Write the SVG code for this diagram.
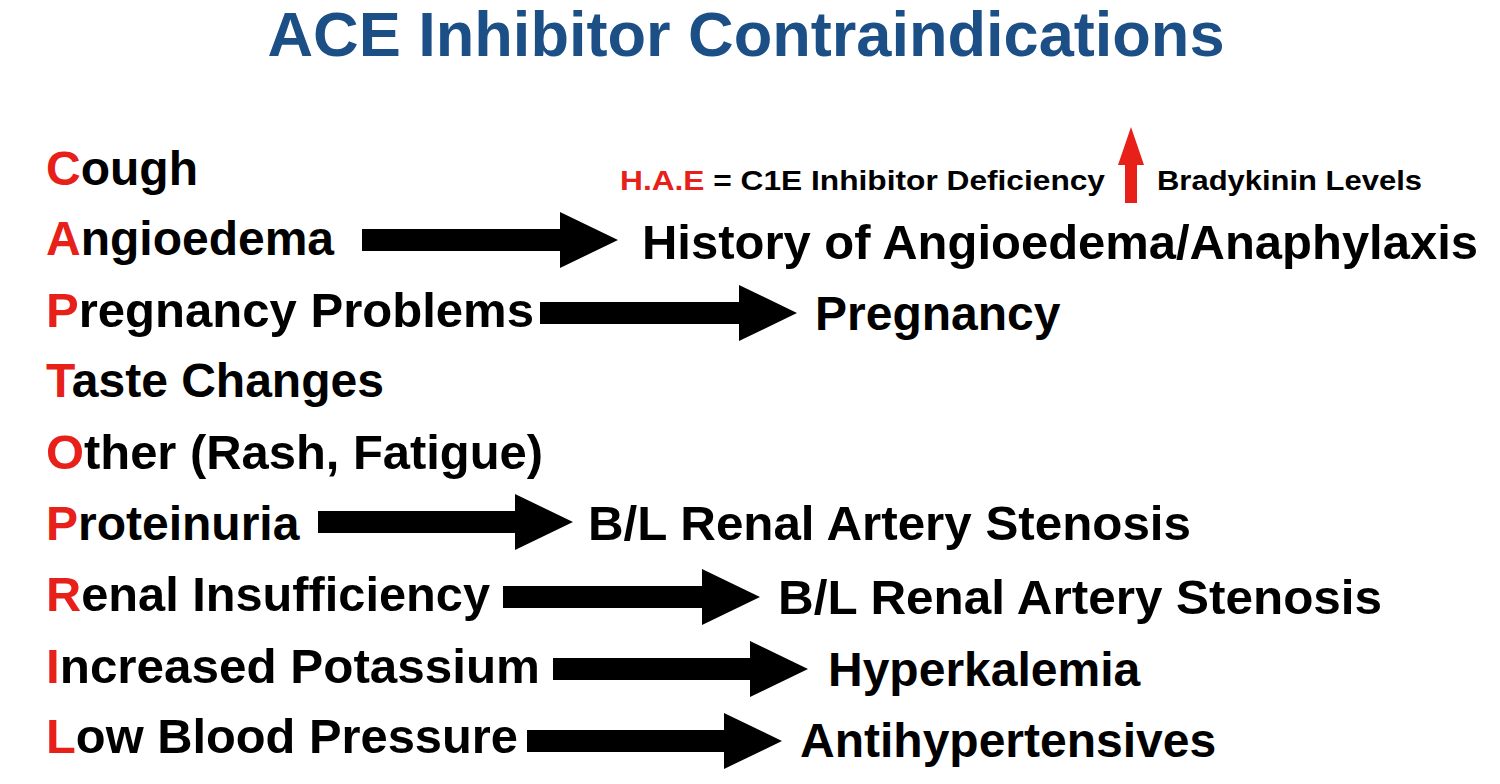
<svg xmlns="http://www.w3.org/2000/svg" width="1500" height="784" viewBox="0 0 1500 784">
<defs>
<style>
text{font-family:"Liberation Sans",Arial,sans-serif;font-weight:bold;fill:#000}
.t{font-size:48px}
.r{fill:#e8201a}
.s{font-size:28px}
.ttl{font-size:63px;fill:#1b4f86}
.arr{fill:#000}
</style>
</defs>
<rect width="1500" height="784" fill="#fff"/>
<text class="ttl" x="746" y="56" text-anchor="middle" textLength="957" lengthAdjust="spacingAndGlyphs">ACE Inhibitor Contraindications</text>
<g id="left">
<text class="t" x="46" y="185"><tspan class="r">C</tspan>ough</text>
<text class="t" x="46" y="255"><tspan class="r">A</tspan>ngioedema</text>
<text class="t" x="46" y="327" textLength="488" lengthAdjust="spacingAndGlyphs"><tspan class="r">P</tspan>regnancy Problems</text>
<text class="t" x="46" y="397"><tspan class="r">T</tspan>aste Changes</text>
<text class="t" x="46" y="469" textLength="497" lengthAdjust="spacingAndGlyphs"><tspan class="r">O</tspan>ther (Rash, Fatigue)</text>
<text class="t" x="46" y="540"><tspan class="r">P</tspan>roteinuria</text>
<text class="t" x="46" y="611" textLength="444" lengthAdjust="spacingAndGlyphs"><tspan class="r">R</tspan>enal Insufficiency</text>
<text class="t" x="46" y="683" textLength="494" lengthAdjust="spacingAndGlyphs"><tspan class="r">I</tspan>ncreased Potassium</text>
<text class="t" x="46" y="753" textLength="472" lengthAdjust="spacingAndGlyphs"><tspan class="r">L</tspan>ow Blood Pressure</text>
</g>
<g id="right">
<text class="t" x="642" y="259" textLength="836" lengthAdjust="spacingAndGlyphs">History of Angioedema/Anaphylaxis</text>
<text class="t" x="815" y="330">Pregnancy</text>
<text class="t" x="588" y="540" textLength="603" lengthAdjust="spacingAndGlyphs">B/L Renal Artery Stenosis</text>
<text class="t" x="778" y="614" textLength="604" lengthAdjust="spacingAndGlyphs">B/L Renal Artery Stenosis</text>
<text class="t" x="828" y="686">Hyperkalemia</text>
<text class="t" x="800" y="757">Antihypertensives</text>
</g>
<g id="hae">
<text class="s" x="620" y="190" textLength="485" lengthAdjust="spacingAndGlyphs"><tspan class="r">H.A.E</tspan> = C1E Inhibitor Deficiency</text>
<text class="s" x="1157" y="190" textLength="265" lengthAdjust="spacingAndGlyphs">Bradykinin Levels</text>
<path class="r" d="M1125,203 V165 H1118 L1131,127 L1144,165 H1137 V203 Z"/>
</g>
<g id="connectors" class="arr">
<path d="M362,229 H560 V212 L618,240 L560,268 V251 H362 Z"/>
<path d="M540,302 H739 V285 L797,313 L739,341 V324 H540 Z"/>
<path d="M318,511 H515 V494 L573,522 L515,550 V533 H318 Z"/>
<path d="M503,586 H702 V569 L760,597 L702,625 V608 H503 Z"/>
<path d="M553,658 H750 V641 L808,669 L750,697 V680 H553 Z"/>
<path d="M527,730 H724 V713 L782,741 L724,769 V752 H527 Z"/>
</g>
</svg>
